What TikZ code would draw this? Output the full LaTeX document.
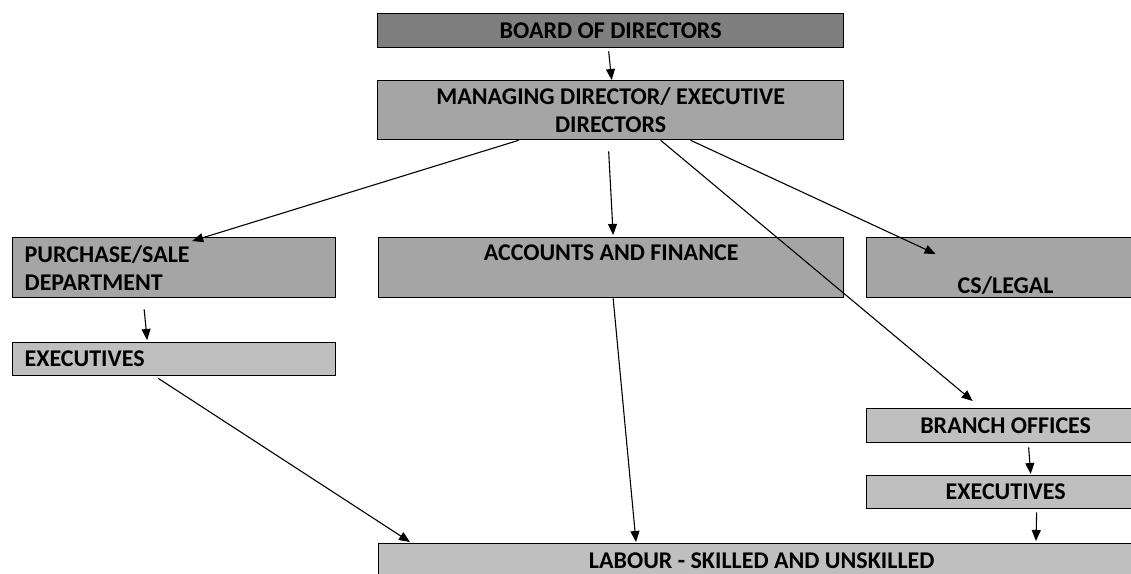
\documentclass[tikz,border=0pt]{standalone}
\usepackage{fontspec}
\setmainfont{Carlito}
\usetikzlibrary{arrows.meta, positioning}
\definecolor{darkgrey}{HTML}{7F7F7F}
\definecolor{midgrey}{HTML}{A5A5A5}
\definecolor{lightgrey}{HTML}{BFBFBF}
\tikzset{
    orgbox/.style={
        rectangle, draw=black, line width=1.3pt,
        anchor=north west, inner sep=0pt,
        font=\bfseries\fontsize{24}{28}\selectfont
    },
    boxtext/.style={inner sep=0pt, font=\bfseries\fontsize{24}{28}\selectfont},
    arrow/.style={draw=black, line width=1.1pt, -{Triangle[length=11pt, width=9pt]}}
}

\begin{document}
\begin{tikzpicture}[x=1pt, y=-1pt]
\useasboundingbox (0,0) rectangle (1131,573);

% Top of the chart
\node[orgbox, fill=darkgrey, minimum width=466pt, minimum height=34pt] (board) at (377,13) {BOARD OF DIRECTORS};
\node[orgbox, fill=midgrey, minimum width=466pt, minimum height=59pt, align=center] (md) at (377,80) {MANAGING DIRECTOR/ EXECUTIVE\\DIRECTORS};

% Departments
\node[orgbox, fill=midgrey, minimum width=323pt, minimum height=60pt, text width=299pt, align=left, inner xsep=12pt] (purchase) at (12,237) {PURCHASE/SALE\\DEPARTMENT};
\node[orgbox, fill=midgrey, minimum width=465pt, minimum height=60pt] (accounts) at (378,237) {};
\node[boxtext, below=8pt of accounts.north] (accounts-t) {ACCOUNTS AND FINANCE};
\node[orgbox, fill=midgrey, minimum width=278pt, minimum height=60pt] (legal) at (866,237) {};
\node[boxtext, anchor=base] (legal-t) at ([yshift=5pt]legal.south) {CS/LEGAL};

% Executives and branches
\node[orgbox, fill=lightgrey, minimum width=323pt, minimum height=33pt, text width=299pt, align=left, inner xsep=12pt] (execl) at (12,342) {EXECUTIVES};
\node[orgbox, fill=lightgrey, minimum width=278pt, minimum height=34pt] (branch) at (866,408) {BRANCH OFFICES};
\node[orgbox, fill=lightgrey, minimum width=278pt, minimum height=33pt] (execr) at (866,475) {EXECUTIVES};

% Bottom
\node[orgbox, fill=lightgrey, minimum width=766pt, minimum height=60pt] (labour) at (378,543) {};
\node[boxtext, below=10pt of labour.north] (labour-t) {LABOUR - SKILLED AND UNSKILLED};

% Connections
\draw[arrow] ([xshift=-2pt, yshift=-3pt]board.south) -- ([xshift=1pt]md.north);
\draw[arrow] ([xshift=-92pt]md.south) -- ([xshift=18pt, yshift=-4pt]purchase.north);
\draw[arrow] ([xshift=-2pt, yshift=-11pt]md.south) -- ([xshift=2pt, yshift=2pt]accounts.north);
\draw[arrow] ([xshift=80pt]md.south) -- ([xshift=-70pt, yshift=-17pt]legal.north);
\draw[arrow] ([xshift=50pt]md.south) -- ([xshift=-33pt, yshift=7pt]branch.north);
\draw[arrow] ([xshift=-30pt, yshift=-11pt]purchase.south) -- ([xshift=-27pt, yshift=2pt]execl.north);
\draw[arrow] ([xshift=2pt]accounts.south) -- ([xshift=258pt, yshift=1pt]labour.north west);
\draw[arrow] ([xshift=-16pt, yshift=-2pt]execl.south) -- ([xshift=32pt, yshift=1pt]labour.north west);
\draw[arrow] ([xshift=23pt, yshift=-4pt]branch.south) -- ([xshift=25pt, yshift=1pt]execr.north);
\draw[arrow] ([xshift=31pt, yshift=-3pt]execr.south) -- ([xshift=658pt, yshift=2pt]labour.north west);

\end{tikzpicture}
\end{document}
